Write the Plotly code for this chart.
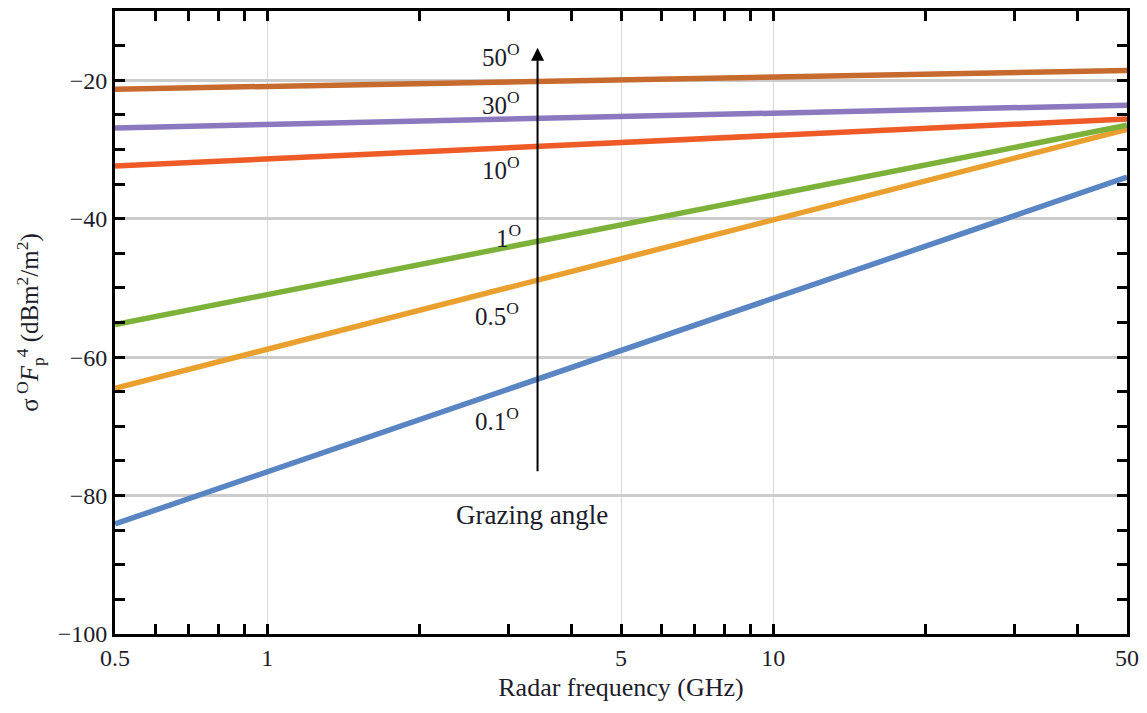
import math
import plotly.graph_objects as go

# Radar frequency endpoints (GHz) and clutter reflectivity (dBm²/m²) per grazing angle
freq = [0.5, 50]
angles = ["0.1", "0.5", "1", "10", "30", "50"]
sigma_01 = [-84.1, -34.0]
sigma_05 = [-64.5, -27.1]
sigma_1 = [-55.3, -26.5]
sigma_10 = [-32.4, -25.6]
sigma_30 = [-26.9, -23.6]
sigma_50 = [-21.3, -18.6]
series = [sigma_01, sigma_05, sigma_1, sigma_10, sigma_30, sigma_50]
colors = ["#5a85c3", "#e9a02f", "#7db23a", "#ee5b26", "#8b78be", "#c66b2d"]

# Angle labels placed next to the arrow
label_freq = [2.84, 2.84, 2.99, 2.89, 2.89, 2.89]
label_sigma = [-68.9, -53.7, -42.5, -32.7, -23.3, -16.3]

# Arrow indicating increasing grazing angle
arrow_freq = 3.42
arrow_tail = -76.7
arrow_head = -15.3
arrow_text = "Grazing angle"
arrow_text_freq = 3.33
arrow_text_sigma = -82.8

x_major = [0.5, 1, 5, 10, 50]
y_major = [-100, -80, -60, -40, -20]

FONT = "Liberation Serif"
TXT = "#1c1c2a"


def lx(v):
    # annotation positions on a log axis are given in log10 units
    return math.log10(v)


fig = go.Figure()
for vals, col in zip(series, colors):
    fig.add_trace(go.Scatter(x=freq, y=vals, mode="lines",
                             line=dict(color=col, width=5.5), showlegend=False,
                             hoverinfo="skip"))

for a, fx, sy in zip(angles, label_freq, label_sigma):
    fig.add_annotation(x=lx(fx), y=sy, xref="x", yref="y",
                       text=f"{a}<sup>O</sup>", showarrow=False,
                       font=dict(family=FONT, size=25, color=TXT))

fig.add_annotation(x=lx(arrow_freq), y=arrow_head,
                   ax=lx(arrow_freq), ay=arrow_tail,
                   xref="x", yref="y", axref="x", ayref="y",
                   text="", showarrow=True, arrowhead=2, arrowsize=1.3,
                   arrowwidth=2, arrowcolor="black")
fig.add_annotation(x=lx(arrow_text_freq), y=arrow_text_sigma, xref="x", yref="y",
                   text=arrow_text, showarrow=False,
                   font=dict(family=FONT, size=27, color=TXT))

fig.update_xaxes(type="log", range=[-0.30103, 1.69897],
                 tickmode="array", tickvals=x_major,
                 ticktext=[str(v) for v in x_major],
                 ticks="inside", ticklen=10, tickwidth=3, tickcolor="black",
                 minor=dict(dtick="D1", ticks="inside",
                            ticklen=10, tickwidth=3, tickcolor="black",
                            showgrid=False),
                 showline=True, linewidth=3, linecolor="black", mirror="allticks",
                 showgrid=True, gridcolor="#d9d9d9", gridwidth=1,
                 zeroline=False,
                 tickfont=dict(family=FONT, size=24, color=TXT),
                 title=dict(text="Radar frequency (GHz)", standoff=9,
                            font=dict(family=FONT, size=26, color=TXT)))
fig.update_yaxes(range=[-100, -10], tickmode="array", tickvals=y_major,
                 ticks="inside", ticklen=10, tickwidth=3, tickcolor="black",
                 minor=dict(dtick=5, tick0=0, ticks="inside", ticklen=10,
                            tickwidth=3, tickcolor="black", showgrid=False),
                 showline=True, linewidth=3, linecolor="black", mirror="allticks",
                 showgrid=True, gridcolor="#cccccc", gridwidth=3,
                 zeroline=False,
                 tickfont=dict(family=FONT, size=24, color=TXT),
                 title=dict(text="σ<sup> O</sup><i>F</i><sub>p</sub><sup>4</sup> (dBm<sup>2</sup>/m<sup>2</sup>)",
                            standoff=12,
                            font=dict(family=FONT, size=25, color=TXT)))

fig.update_layout(width=1147, height=713,
                  margin=dict(l=115, r=19, t=8, b=79),
                  font=dict(family=FONT, color=TXT),
                  plot_bgcolor="white", paper_bgcolor="white")

fig.write_html("out.html")
